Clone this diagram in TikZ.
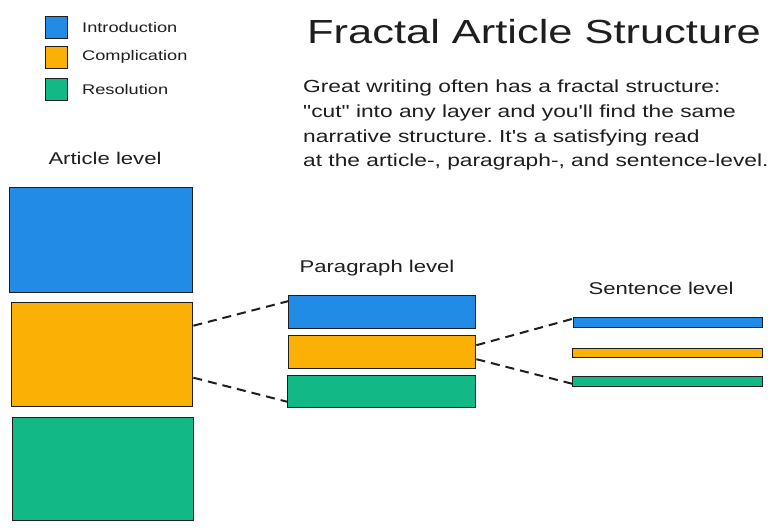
\documentclass[tikz,border=0pt]{standalone}
\usepackage{fontspec}
\setmainfont{Liberation Sans}[FakeStretch=1.3, Ligatures=TeXOff]
\definecolor{cblue}{HTML}{228BE6}
\definecolor{corange}{HTML}{FAB005}
\definecolor{cgreen}{HTML}{12B886}
\definecolor{ink}{HTML}{1E1E1E}
\tikzset{
  box/.style={draw=ink, line width=1.4pt, rectangle, inner sep=0pt, anchor=north west},
  legbox/.style={box, line width=1.4pt, minimum width=22pt, minimum height=22pt},
  legtxt/.style={anchor=west, font=\fontsize{14}{16}\selectfont, text=ink, inner sep=0pt},
  lvl/.style={font=\fontsize{17}{20}\selectfont, text=ink, inner sep=0pt},
  dashline/.style={draw=ink, line width=2pt, dash pattern=on 9pt off 6pt},
}
\frenchspacing
\begin{document}
\frenchspacing
\begin{tikzpicture}[x=1pt, y=-1pt]
\useasboundingbox (0,0) rectangle (781,530);
\fill[white] (0,0) rectangle (781,530);
% legend
\node[legbox, fill=cblue] (l1) at (45,16) {};
\node[legbox, fill=corange] (l2) at (45,46) {};
\node[legbox, fill=cgreen] (l3) at (45,78) {};
\node[legtxt] (lt1) at (82,27) {Introduction};
\node[legtxt] (lt2) at (82,57) {Complication};
\node[legtxt] (lt3) at (82,89) {Resolution};
% title
\node[anchor=west, inner sep=0pt, font=\fontsize{33.4}{38}\selectfont, text=ink] (title) at (307,32) {Fractal Article Structure};
\node[anchor=north west, inner sep=0pt, align=left, font=\fontsize{17.5}{24.7}\selectfont, text=ink] (desc) at (303,80)
  {Great writing often has a fractal structure:\\
   "cut" into any layer and you'll find the same\\
   narrative structure. It's a satisfying read\\
   at the article-, paragraph-, and sentence-level.};
% article level
\node[lvl] (alab) at (105,158) {Article level};
\node[box, fill=cblue, minimum width=183pt, minimum height=105pt] (a1) at (9,187) {};
\node[box, fill=corange, minimum width=181pt, minimum height=104pt] (a2) at (11,302) {};
\node[box, fill=cgreen, minimum width=181pt, minimum height=103pt] (a3) at (12,417) {};
% paragraph level
\node[lvl] (plab) at (377,268) {Paragraph level};
\node[box, fill=cblue, minimum width=187pt, minimum height=33pt] (p1) at (288,295) {};
\node[box, fill=corange, minimum width=187pt, minimum height=33pt] (p2) at (288,335) {};
\node[box, fill=cgreen, minimum width=188pt, minimum height=32pt] (p3) at (287,375) {};
% sentence level
\node[lvl] (slab) at (661,288) {Sentence level};
\node[box, fill=cblue, minimum width=189pt, minimum height=10pt] (s1) at (573,317) {};
\node[box, fill=corange, minimum width=190pt, minimum height=9pt] (s2) at (572,348) {};
\node[box, fill=cgreen, minimum width=190pt, minimum height=10pt] (s3) at (572,376) {};
% connectors
\draw[dashline] ([yshift=29pt]a2.east) -- ([yshift=11pt]p1.west);
\draw[dashline] ([yshift=-23pt]a2.east) -- ([yshift=-10pt]p3.west);
\draw[dashline] ([yshift=7pt]p2.east) -- ([yshift=4pt]s1.west);
\draw[dashline] ([yshift=-7pt]p2.east) -- ([yshift=-2pt]s3.west);
\end{tikzpicture}
\end{document}
